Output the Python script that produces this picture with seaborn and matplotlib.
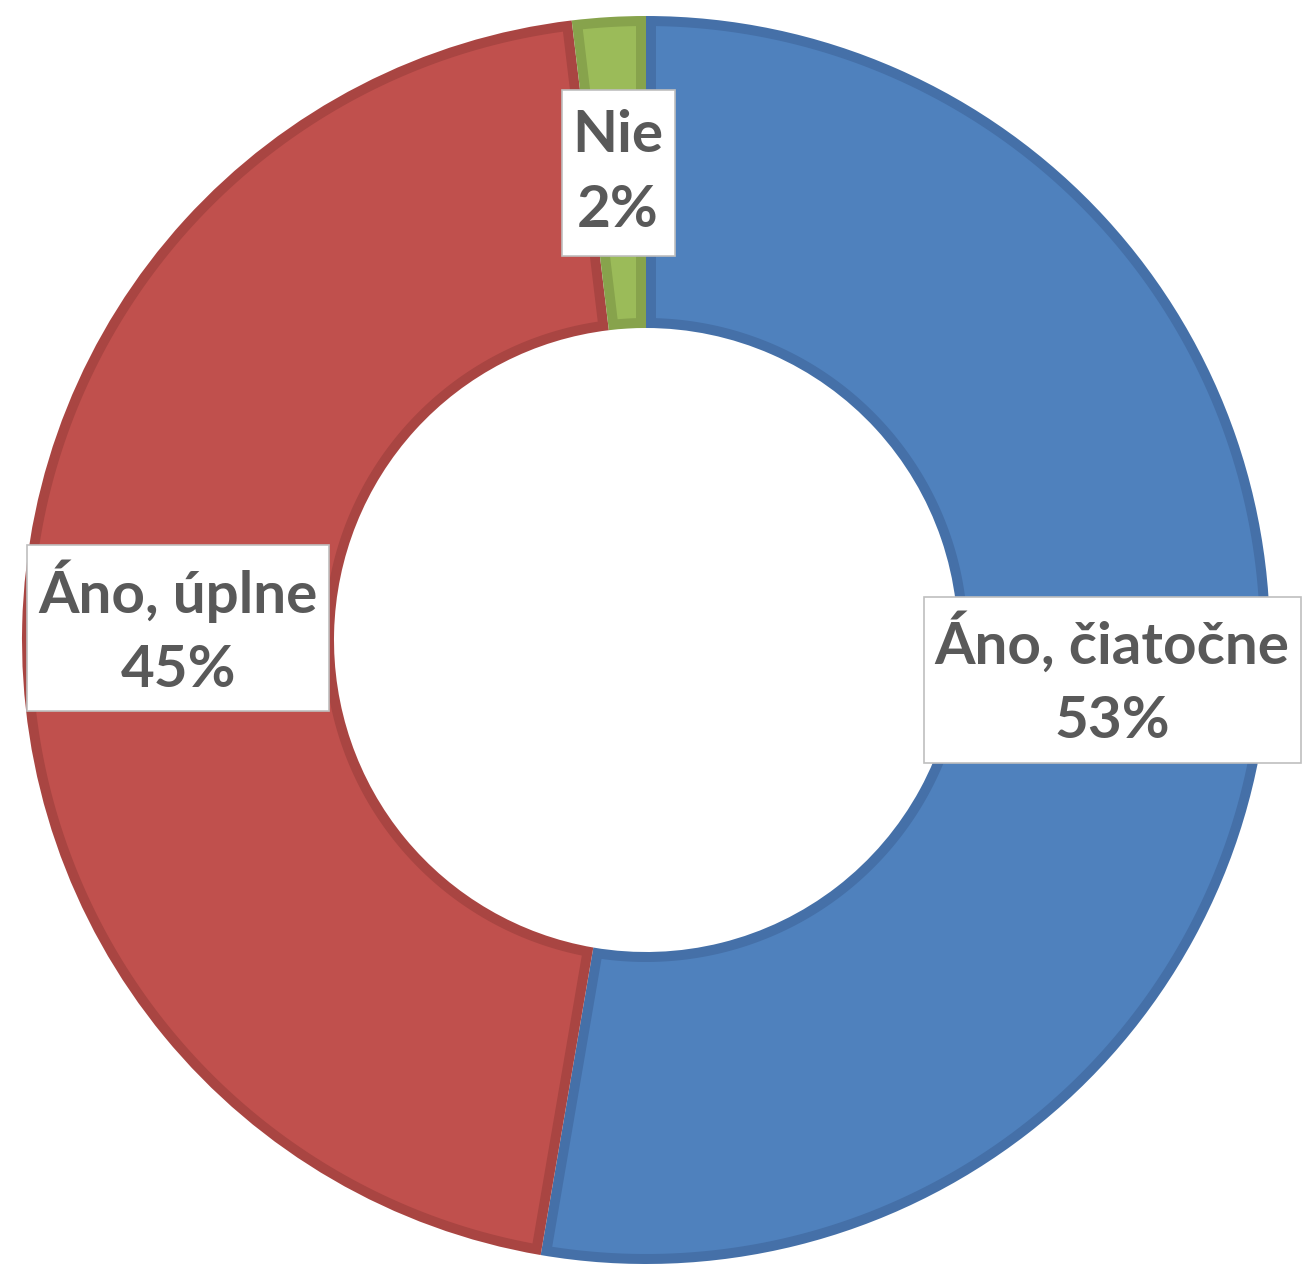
import matplotlib
matplotlib.use("Agg")
import matplotlib.pyplot as plt
from matplotlib.patches import Polygon, Rectangle
import seaborn as sns
import numpy as np

# survey answers, share in percent
categories = ["Áno, čiatočne", "Áno, úplne", "Nie"]
shares = [52.7, 45.4, 1.9]
fill_colors = ["#4F81BD", "#C0504D", "#9BBB59"]
edge_colors = ["#4570A8", "#A94542", "#87A34C"]

sns.set_theme(style="white")
plt.rcParams['font.family'] = ['Lato', 'DejaVu Sans']

W, H = 1307, 1264
fig = plt.figure(figsize=(W / 100, H / 100), dpi=100)
ax = fig.add_axes([0, 0, 1, 1])

cx, cy, R = 646, H - 640, 624
ring = 0.5 * R
border = 10

# base pie in the darker border colour
wedges, _ = ax.pie(shares, colors=edge_colors, startangle=90, counterclock=False,
                   radius=R, center=(cx, cy),
                   wedgeprops=dict(width=ring, linewidth=0))


def inset_wedge(w, b):
    # slice shrunk by b pixels on every side, so the border sits inside
    r_out = w.r - b
    r_in = w.r - w.width + b
    t1, t2 = np.deg2rad(w.theta1), np.deg2rad(w.theta2)
    a_out = np.linspace(t1 + np.arcsin(b / r_out), t2 - np.arcsin(b / r_out), 200)
    a_in = np.linspace(t2 - np.arcsin(b / r_in), t1 + np.arcsin(b / r_in), 200)
    xs = np.concatenate([r_out * np.cos(a_out), r_in * np.cos(a_in)]) + w.center[0]
    ys = np.concatenate([r_out * np.sin(a_out), r_in * np.sin(a_in)]) + w.center[1]
    return np.column_stack([xs, ys])


for w, fc in zip(wedges, fill_colors):
    ax.add_patch(Polygon(inset_wedge(w, border), closed=True, fc=fc, ec='none', zorder=2))

texts = []
for w, cat, val in zip(wedges, categories, shares):
    ang = np.deg2rad((w.theta1 + w.theta2) / 2)
    r = R - ring / 2
    t = ax.text(cx + r * np.cos(ang), cy + r * np.sin(ang), f"{cat}\n{round(val)}%",
                ha='center', va='center', ma='center', zorder=5,
                fontsize=42, fontweight='bold', color='#595959', linespacing=1.5)
    texts.append(t)

ax.set_xlim(0, W)
ax.set_ylim(0, H)
ax.set_aspect('equal')
ax.axis('off')

# white label boxes sized from the rendered text
fig.canvas.draw()
renderer = fig.canvas.get_renderer()
for t in texts:
    bb = t.get_window_extent(renderer)
    x, y = t.get_position()
    box_w = bb.width + 22
    box_h = 166
    ax.add_patch(Rectangle((x - box_w / 2, y - box_h / 2), box_w, box_h,
                           fc='white', ec='#BFBFBF', lw=1.2, zorder=4))

fig.savefig("out.png", dpi=100, facecolor='white')
